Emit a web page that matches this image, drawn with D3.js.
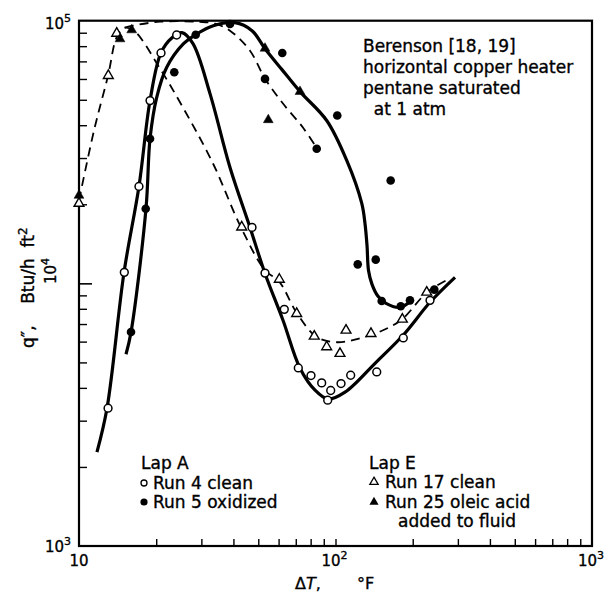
<!DOCTYPE html>
<html>
<head>
<meta charset="utf-8">
<script src="https://cdn.jsdelivr.net/npm/d3@7"></script>
<style>
  body { margin: 0; background: #fff; }
  text { font-family: "DejaVu Sans", sans-serif; fill: #000; stroke: #000; stroke-width: 0.35px; }
</style>
</head>
<body>
<div id="chart"></div>
<script>
// measured points, [deltaT (F), q'' (Btu/h ft2)]
var run4Clean = [[12.98,3347],[15.02,11010],[17.13,23380],[18.92,49640],[20.88,75370],[24.03,88230],
  [47.26,16330],[53.11,10940],[63.15,7962],[71.61,4764],[80.26,4457],[88.34,4178],[95.79,3908],
  [93.24,3591],[105.1,4155],[114.6,4468],[144.8,4599],[183.8,6195],[233.6,8616]];
var run5Oxidized = [[15.95,6528],[18.2,19230],[18.92,35500],[23.52,63600],[28.51,88460],[38.79,97160],
  [62.02,75370],[53.11,60030],[101.6,43540],[84.49,32530],[164.1,24640],[122.1,11810],[143.5,12310],
  [151.4,8562],[179.6,8177],[195.2,8616],[242.8,9463]];
var run17Clean = [[10,20150],[13.01,61800],[14.03,89490],[43.08,16370],[60.39,10350],[70.58,7671],
  [82.65,6287],[92.4,5727],[104.1,5404],[109.9,6627],[137.5,6437],[182.2,7297],[226.8,9244]];
var run25Oleic = [[10,21610],[14.45,85200],[16.05,92170],[53.11,78460],[72.71,53700],[54.7,41930]];

// faired curves
var curveClean = [[11.75,2278],[12.86,3347],[14.98,11010],[17.13,23380],[18.92,49640],[20.88,75550],
  [23.05,86160],[25.21,90030],[27.82,81770],[32.41,52780],[38.79,27620],[46.42,16330],[53.11,10910],
  [62.41,7234],[72.71,4752],[83.21,3920],[93.5,3623],[108.9,3851],[143.9,5006],[183.4,6343],
  [233.6,8471],[292.4,10540]];
var curveOxidized = [[15.25,5370],[15.95,6513],[18.25,19290],[18.92,35590],[20.09,51100],[21.98,66440],
  [25.5,81550],[28.76,88990],[33.39,95720],[40.56,98260],[47.26,91620],[53.11,78250],[61.85,65120],
  [72.71,53700],[92.4,41680],[110.6,29370],[126.6,20150],[130.3,16910],[132.7,13950],[134.5,11200],
  [138.8,9913],[146.5,8925],[157.4,8395],[178.4,8105],[198.7,8616]];
var curveRun17 = [[10,20690],[11.44,38170],[12.98,61790],[14.06,86960],[15.11,94050],[16.53,90830],
  [20.7,65690],[25.44,46700],[33.3,28600],[42.81,16330],[53.11,11210],[60.22,10180],[70.77,7691],
  [84.49,6248],[101.3,5968],[124.6,6180],[153.2,6627],[181.7,7297],[227.4,9244],[279.5,10450]];
var curveRun25 = [[15.11,94050],[16.23,95730],[20.7,99130],[29.63,99000],[33.9,97400],[38.79,91620],
  [46.42,76890],[53.11,60190],[62.41,48360],[74.67,39190],[84.73,32610]];

var xMinorTicks = [20,30,40,50,60,70,80,90,100,200,300,400,500,600,700,800,900];
var yMinorTicks = [2000,3000,4000,5000,6000,7000,8000,9000,20000,30000,40000,50000,60000,70000,80000,90000];
var yMajorTicks = [10000];
var xTickLabels = [[10,""],[100,"2"],[1000,"3"]];
var noteLines = ["Berenson [18, 19]","horizontal copper heater","pentane saturated","  at 1 atm"];

var width = 609, height = 595;
var plotLeft = 79, plotRight = 592, plotTop = 20.7, plotBottom = 546;

var svg = d3.select("#chart").append("svg")
    .attr("width", width)
    .attr("height", height);

var x = d3.scaleLog().domain([10, 1000]).range([plotLeft, plotRight]);
var y = d3.scaleLog().domain([1000, 100000]).range([plotBottom, plotTop]);

// ticks, pointing into the plot
svg.append("g")
    .attr("transform", "translate(0," + plotBottom + ")")
    .call(d3.axisBottom(x).tickValues(xMinorTicks).tickSize(-7).tickSizeOuter(0).tickFormat(""))
    .call(function(g) { g.select(".domain").remove(); g.selectAll("line").attr("stroke-width", 1.4); });

svg.append("g")
    .attr("transform", "translate(" + plotLeft + ",0)")
    .call(d3.axisLeft(y).tickValues(yMinorTicks).tickSize(-8).tickSizeOuter(0).tickFormat(""))
    .call(function(g) { g.select(".domain").remove(); g.selectAll("line").attr("stroke-width", 1.4); });

svg.append("g")
    .attr("transform", "translate(" + plotLeft + ",0)")
    .call(d3.axisLeft(y).tickValues(yMajorTicks).tickSize(-13).tickSizeOuter(0).tickFormat(""))
    .call(function(g) { g.select(".domain").remove(); g.selectAll("line").attr("stroke-width", 1.6); });

// frame
svg.append("rect")
    .attr("x", plotLeft).attr("y", plotTop)
    .attr("width", plotRight - plotLeft).attr("height", plotBottom - plotTop)
    .attr("fill", "none").attr("stroke", "#000").attr("stroke-width", 2.2);

// curves
var line = d3.line()
    .x(function(d) { return x(d[0]); })
    .y(function(d) { return y(d[1]); })
    .curve(d3.curveCatmullRom.alpha(0.5));

function drawCurve(data, dashed) {
  svg.append("path")
      .datum(data)
      .attr("d", line)
      .attr("fill", "none")
      .attr("stroke", "#000")
      .attr("stroke-width", dashed ? 1.8 : 3.2)
      .attr("stroke-dasharray", dashed ? "9,6" : null)
      .attr("stroke-linejoin", "round");
}
drawCurve(curveClean, false);
drawCurve(curveOxidized, false);
drawCurve(curveRun17, true);
drawCurve(curveRun25, true);

// markers
var triangle = d3.symbol().type(d3.symbolTriangle).size(42);

function drawCircles(data, filled) {
  svg.append("g").selectAll("circle")
      .data(data).enter().append("circle")
      .attr("cx", function(d) { return x(d[0]); })
      .attr("cy", function(d) { return y(d[1]); })
      .attr("r", filled ? 4.3 : 3.9)
      .attr("fill", filled ? "#000" : "#fff")
      .attr("stroke", "#000")
      .attr("stroke-width", filled ? 0 : 1.5);
}
function drawTriangles(data, filled) {
  svg.append("g").selectAll("path")
      .data(data).enter().append("path")
      .attr("d", triangle)
      .attr("transform", function(d) { return "translate(" + x(d[0]) + "," + y(d[1]) + ")"; })
      .attr("fill", filled ? "#000" : "#fff")
      .attr("stroke", "#000")
      .attr("stroke-width", filled ? 0.5 : 1.4);
}
drawCircles(run4Clean, false);
drawCircles(run5Oxidized, true);
drawTriangles(run17Clean, false);
drawTriangles(run25Oleic, true);

// tick labels
var xl = svg.append("g").attr("font-size", 15);
xTickLabels.forEach(function(t) {
  var tx = xl.append("text")
      .attr("x", x(t[0]) - (t[1] ? 1 : 0))
      .attr("y", 566)
      .attr("text-anchor", "middle")
      .text("10");
  if (t[1]) tx.append("tspan").attr("dy", -7).attr("font-size", 11).text(t[1]);
});

var y3 = svg.append("text").attr("x", 45).attr("y", 552).attr("font-size", 15).text("10");
y3.append("tspan").attr("dy", -7).attr("font-size", 11).text("3");
var y5 = svg.append("text").attr("x", 45).attr("y", 29).attr("font-size", 15).text("10");
y5.append("tspan").attr("dy", -7).attr("font-size", 11).text("5");
var y4 = svg.append("text").attr("transform", "translate(56,284) rotate(-90)").attr("font-size", 15).text("10");
y4.append("tspan").attr("dy", -7).attr("font-size", 11).text("4");

// axis titles
var yt = svg.append("text")
    .attr("transform", "translate(34,348) rotate(-90)")
    .attr("font-size", 17)
    .attr("xml:space", "preserve");
yt.append("tspan").text("q\u2033,    Btu/h  ft");
yt.append("tspan").attr("dy", -7).attr("font-size", 12).text("2");

var xt = svg.append("text").attr("x", 295).attr("y", 589).attr("font-size", 16);
xt.append("tspan").text("\u0394");
xt.append("tspan").attr("font-style", "italic").text("T");
xt.append("tspan").text(",");
svg.append("text").attr("x", 357).attr("y", 589).attr("font-size", 16).text("\u00b0F");

// note
svg.append("g").selectAll("text")
    .data(noteLines).enter().append("text")
    .attr("x", 363)
    .attr("y", function(d, i) { return 52 + i * 21; })
    .attr("font-size", 17)
    .attr("xml:space", "preserve")
    .text(function(d) { return d; });

// legend
svg.append("text").attr("x", 141).attr("y", 469).attr("font-size", 17).text("Lap A");
svg.append("circle").attr("cx", 144).attr("cy", 483).attr("r", 3).attr("fill", "#fff").attr("stroke", "#000").attr("stroke-width", 1.3);
svg.append("text").attr("x", 153).attr("y", 489).attr("font-size", 17).text("Run 4 clean");
svg.append("circle").attr("cx", 144).attr("cy", 502).attr("r", 3.6).attr("fill", "#000");
svg.append("text").attr("x", 153).attr("y", 508).attr("font-size", 17).text("Run 5 oxidized");

svg.append("text").attr("x", 369).attr("y", 469).attr("font-size", 17).text("Lap E");
svg.append("path").attr("d", d3.symbol().type(d3.symbolTriangle).size(30))
    .attr("transform", "translate(374,482)").attr("fill", "#fff").attr("stroke", "#000").attr("stroke-width", 1.3);
svg.append("text").attr("x", 385).attr("y", 488).attr("font-size", 17).text("Run 17 clean");
svg.append("path").attr("d", d3.symbol().type(d3.symbolTriangle).size(36))
    .attr("transform", "translate(374,502)").attr("fill", "#000");
svg.append("text").attr("x", 385).attr("y", 508).attr("font-size", 17).text("Run 25 oleic acid");
svg.append("text").attr("x", 398).attr("y", 527).attr("font-size", 17).text("added to fluid");
</script>
</body>
</html>
